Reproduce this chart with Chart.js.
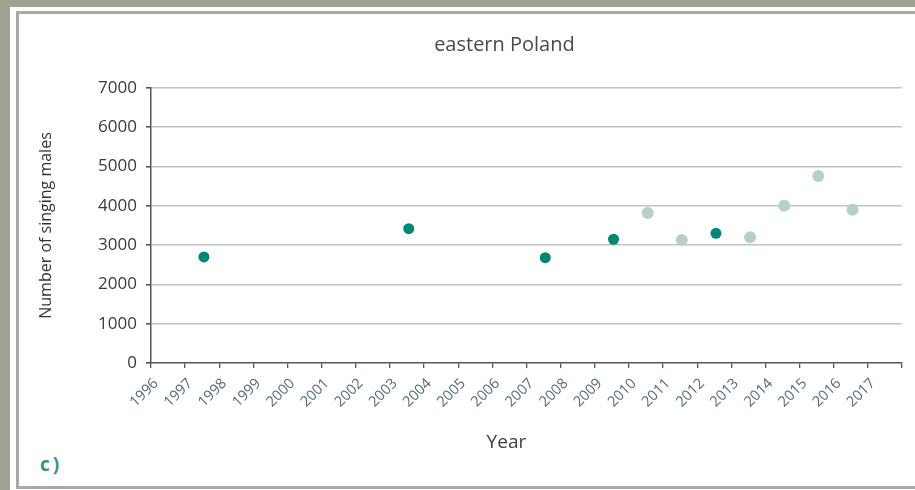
<!DOCTYPE html>
<html>
<head>
<meta charset="utf-8">
<script src="https://cdn.jsdelivr.net/npm/chart.js@4.4.1/dist/chart.umd.min.js"></script>
<style>
  html, body { margin: 0; padding: 0; }
  body { width: 915px; height: 490px; background: #9ea292; position: relative; overflow: hidden; }
  #panel { position: absolute; left: 10px; top: 7px; width: 920px; height: 490px; background: #ffffff; }
  #frame { position: absolute; left: 16px; top: 11px; width: 910px; height: 472px; border: 3px solid #a9a9a9; border-right: none; background: #ffffff; }
  #wrap { position: absolute; left: 0; top: 0; width: 915px; height: 490px; }
  #label { position: absolute; left: 40px; top: 451px; font-family: "Open Sans", sans-serif; font-weight: bold; font-size: 19px; color: #3d8f8a; letter-spacing: 3px; }
</style>
</head>
<body>
<div id="panel"></div>
<div id="frame"></div>
<div id="label">c)</div>
<div id="wrap"><canvas id="c" width="915" height="490"></canvas></div>
<script>
const CHART_TITLE = 'eastern Poland';
const X_TITLE = 'Year';
const Y_TITLE = 'Number of singing males';
const darkYears  = [1997, 2003, 2007, 2009, 2012];
const darkValues = [2700, 3420, 2680, 3150, 3300];
const lightYears  = [2010, 2011, 2013, 2014, 2015, 2016];
const lightValues = [3820, 3130, 3200, 4000, 4760, 3900];
const tickYears = [1996, 1997, 1998, 1999, 2000, 2001, 2002, 2003, 2004, 2005, 2006, 2007, 2008, 2009, 2010, 2011, 2012, 2013, 2014, 2015, 2016, 2017];
const yTicks = [0, 1000, 2000, 3000, 4000, 5000, 6000, 7000];

const FONT = '"Open Sans", sans-serif';
// points sit in the middle of their year interval
const toPts = (ys, vs) => ys.map((y, i) => ({ x: y + 0.55, y: vs[i] }));

// chart title and x-axis title, centred on the labelled year range
const textPlugin = {
  id: 'texts',
  afterDraw(chart) {
    const ctx = chart.ctx;
    const xs = chart.scales.x;
    const cx = xs.getPixelForValue((tickYears[0] + tickYears[tickYears.length - 1]) / 2) - 3;
    ctx.save();
    ctx.textAlign = 'center';
    ctx.textBaseline = 'middle';
    ctx.fillStyle = '#4a4a4a';
    ctx.font = '20px ' + FONT;
    ctx.fillText(CHART_TITLE, cx - 2, 45);
    ctx.fillStyle = '#3f3f3f';
    ctx.font = '19px ' + FONT;
    ctx.fillText(X_TITLE, cx, 443);
    ctx.restore();
  }
};

new Chart(document.getElementById('c'), {
  type: 'scatter',
  data: {
    datasets: [
      { data: toPts(darkYears, darkValues), backgroundColor: '#00877a', borderColor: '#00877a', pointRadius: 5.5, pointHoverRadius: 5.5, borderWidth: 0 },
      { data: toPts(lightYears, lightValues), backgroundColor: '#b7cfca', borderColor: '#b7cfca', pointRadius: 6, pointHoverRadius: 6, borderWidth: 0 }
    ]
  },
  plugins: [textPlugin],
  options: {
    responsive: false,
    animation: false,
    events: [],
    layout: { padding: { left: 0, right: 13, top: 88, bottom: 0 } },
    plugins: {
      legend: { display: false },
      tooltip: { enabled: false },
      title: { display: false }
    },
    scales: {
      x: {
        type: 'linear',
        min: tickYears[0],
        max: tickYears[tickYears.length - 1] + 1,
        afterFit: s => { s.height = 127; s.paddingRight = 0; s.paddingLeft = 0; },
        afterBuildTicks: s => {
          s.ticks = tickYears.concat([tickYears[tickYears.length - 1] + 1]).map(v => ({ value: v }));
        },
        ticks: {
          autoSkip: false,
          maxRotation: 45,
          minRotation: 45,
          padding: 7,
          labelOffset: 5,
          color: '#566879',
          font: { family: FONT, size: 14.5 },
          callback: v => tickYears.includes(v) ? String(v) : ''
        },
        grid: { display: true, drawOnChartArea: false, drawTicks: true, tickLength: 5, color: '#555555', lineWidth: 1.3 },
        border: { display: true, color: '#555555', width: 1.5 },
        title: { display: false, text: X_TITLE }
      },
      y: {
        min: 0,
        max: 7000,
        afterFit: s => { s.width = 151; },
        afterBuildTicks: s => { s.ticks = yTicks.map(v => ({ value: v })); },
        ticks: {
          padding: 9,
          color: '#3a3a3a',
          font: { family: FONT, size: 17 },
          callback: v => String(v)
        },
        grid: {
          color: ctx => ctx.tick && ctx.tick.value === 0 ? 'rgba(0,0,0,0)' : '#c4c4c4',
          lineWidth: 1.6,
          tickColor: '#555555',
          tickLength: 5,
          drawTicks: true
        },
        border: { display: true, color: '#555555', width: 1.5 },
        title: {
          display: true,
          text: Y_TITLE,
          color: '#333333',
          font: { family: FONT, size: 16 },
          padding: { top: 37, bottom: 0 }
        }
      }
    }
  }
});
</script>
</body>
</html>
